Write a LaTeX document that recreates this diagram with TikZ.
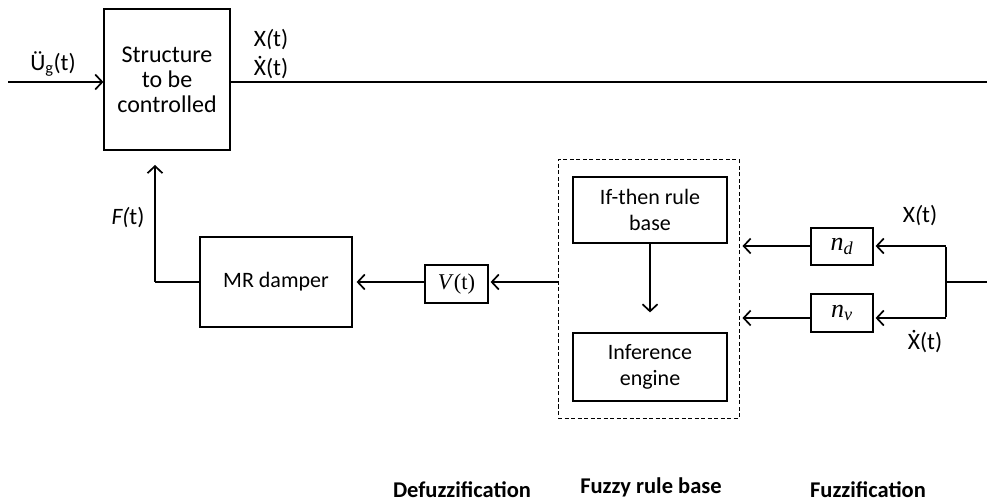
\documentclass[tikz,border=0pt]{standalone}
\usepackage{fontspec}
\setmainfont{Carlito}
\newfontfamily\tnr{Liberation Serif}
\usetikzlibrary{arrows.meta,calc}
\begin{document}
\begin{tikzpicture}[x=1pt,y=-1pt,
  font=\fontsize{22}{26}\selectfont,
  box/.style={draw,line width=1.2pt,inner sep=0pt,align=center},
  arr/.style={line width=1.7pt,-{Straight Barb[length=7pt,width=15pt,line width=1.7pt]}},
  thickline/.style={line width=2.6pt},
  lab/.style={inner sep=0pt,anchor=center,font=\fontsize{23.5}{27}\selectfont},
  bot/.style={inner sep=0pt,anchor=base,font=\fontsize{22.5}{26}\selectfont\bfseries}]
\useasboundingbox (0,0) rectangle (987,502);
% boxes
\node[box,minimum width=126pt,minimum height=141pt,font=\fontsize{24}{25}\selectfont] (S) at (167,79.5) {Structure\\to be\\controlled};
\node[box,minimum width=152pt,minimum height=90pt] (MR) at (276,282) {MR damper};
\node[box,minimum width=63pt,minimum height=38pt,font=\fontsize{22.5}{26}\selectfont] (V) at (456.5,284) {\tnr\textit{V}(t)};
\node[box,dash pattern=on 4pt off 2.5pt,line width=1pt,minimum width=181pt,minimum height=258pt] (FR) at (648.5,289) {};
\node[box,minimum width=154pt,minimum height=66pt] (IF) at (650,210) {If-then rule\\base};
\node[box,minimum width=154pt,minimum height=68pt] (IE) at (650,367) {Inference\\engine};
\node[box,minimum width=62pt,minimum height=37pt,font=\fontsize{26}{28}\selectfont] (ND) at (842,246.5) {\tnr\itshape n\textsubscript{d}};
\node[box,minimum width=62pt,minimum height=38pt,font=\fontsize{26}{28}\selectfont] (NV) at (842,313) {\tnr\itshape n\textsubscript{v}};
% coordinates
\coordinate (in) at (8,82);
\coordinate (out) at (987,82);
\coordinate (fup) at (155,165);
\coordinate (fcorner) at (155,282);
\coordinate (fkA) at (946,246);
\coordinate (fkB) at (946,318);
\coordinate (fkM) at (946,282);
\coordinate (fkOut) at (987,282);
% connectors
\draw[arr] (in) -- (S.west |- in);
\draw[thickline] (S.east |- out) -- (out);
\draw[thickline] (MR.west |- fcorner) -- (fcorner);
\draw[arr] (fcorner) -- (fup);
\draw[arr,shorten >=4pt] (V.west |- 0,282) -- (MR.east |- 0,282);
\draw[arr,shorten >=2pt] (FR.west |- 0,282) -- (V.east |- 0,282);
\draw[arr] (IF.south) -- ($(IE.north)+(0,-20)$);
\draw[arr,shorten >=3pt] (ND.west |- fkA) -- (FR.east |- fkA);
\draw[arr,shorten >=3pt] (NV.west |- fkB) -- (FR.east |- fkB);
\draw[arr,shorten >=2pt] (fkA) -- (ND.east |- fkA);
\draw[arr,shorten >=2pt] (fkB) -- (NV.east |- fkB);
\draw[thickline] ([yshift=-1.3pt]fkA) -- ([yshift=1.3pt]fkB);
\draw[thickline] (fkM) -- (fkOut);
% labels
\node[lab] (ug) at (53,64) {Ü\textsubscript{g}(t)};
\node[lab] (x1) at (271,40) {X\textit{(}t)};
\node[lab] (x2) at (271,68) {Ẋ(t)};
\node[lab] (F) at (128,218) {\textit{F(}t)};
\node[lab] (x3) at (920,216) {X\textit{(}t)};
\node[lab] (x4) at (925,342) {Ẋ(t)};
\node[bot] (d1) at (462,497) {Defuzzification};
\node[bot] (d2) at (651,493) {Fuzzy rule base};
\node[bot] (d3) at (868,497) {Fuzzification};
\end{tikzpicture}
\end{document}
